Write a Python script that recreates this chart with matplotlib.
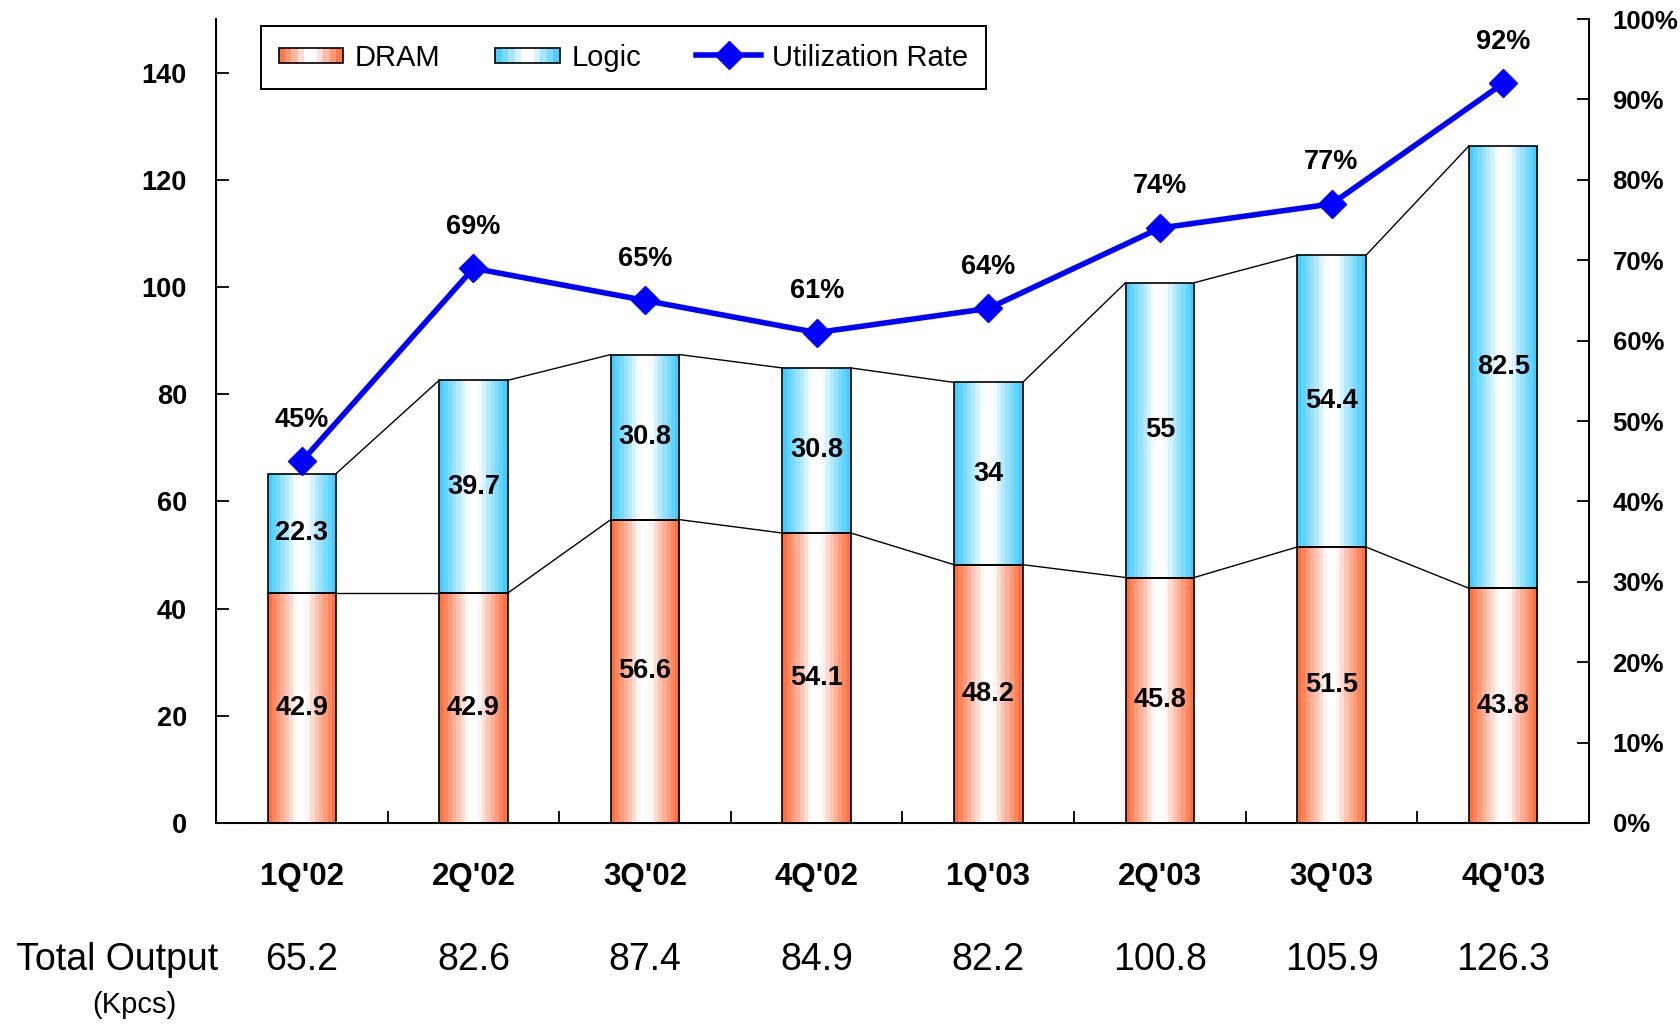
import numpy as np
import matplotlib
matplotlib.use("Agg")
import matplotlib.pyplot as plt
from matplotlib.patches import Rectangle
from matplotlib.lines import Line2D
from matplotlib.legend_handler import HandlerBase
from matplotlib.ticker import FuncFormatter
from matplotlib.colors import to_rgb
import matplotlib.transforms as mtransforms

quarters = ["1Q'02", "2Q'02", "3Q'02", "4Q'02", "1Q'03", "2Q'03", "3Q'03", "4Q'03"]
dram = [42.9, 42.9, 56.6, 54.1, 48.2, 45.8, 51.5, 43.8]
logic = [22.3, 39.7, 30.8, 30.8, 34, 55, 54.4, 82.5]
util = [45, 69, 65, 61, 64, 74, 77, 92]
total_output = ["65.2", "82.6", "87.4", "84.9", "82.2", "100.8", "105.9", "126.3"]

ORANGE = "#FF6633"
BLUE = "#38C8FF"
LINE_BLUE = "#0000FF"

plt.rcParams["font.family"] = ["Liberation Sans", "DejaVu Sans"]
plt.rcParams["font.weight"] = "bold"


def shade(edge, t):
	# t: 0 at bar centre, 1 at bar edge
	f = np.clip((t - 0.15) / 0.85, 0, 1) ** 0.9
	e = np.array(to_rgb(edge))
	return tuple(1 - f + e * f)


def gradient_bar(ax, x, bottom, height, edge, width, n=16):
	left = x - width / 2
	sw = width / n
	for i in range(n):
		t = abs((i + 0.5) / n * 2 - 1)
		ax.bar(left + i * sw, height, width=sw * 1.03, bottom=bottom, align="edge",
			color=shade(edge, t), linewidth=0, zorder=2)
	ax.bar(x, height, width=width, bottom=bottom, fill=False,
		edgecolor="black", linewidth=1.2, zorder=3)


class GradientHandler(HandlerBase):
	def __init__(self, edge, n=10):
		super().__init__()
		self.edge = edge
		self.n = n

	def create_artists(self, legend, orig_handle, xdescent, ydescent, width, height, fontsize, trans):
		h = height * 0.75
		y0 = -ydescent + (height - h) / 2
		sw = width / self.n
		arts = []
		for i in range(self.n):
			t = abs((i + 0.5) / self.n * 2 - 1)
			arts.append(Rectangle((-xdescent + i * sw, y0), sw * 1.05, h,
				facecolor=shade(self.edge, t), linewidth=0, transform=trans))
		arts.append(Rectangle((-xdescent, y0), width, h, fill=False,
			edgecolor="black", linewidth=1.2, transform=trans))
		return arts


fig = plt.figure(figsize=(16.8, 10.24), dpi=100)
ax = fig.add_axes([0.1286, 0.1963, 0.8172, 0.7851])

x = np.arange(len(quarters))
w = 0.4
tops = [d + l for d, l in zip(dram, logic)]

for i in range(len(x)):
	gradient_bar(ax, x[i], 0, dram[i], ORANGE, w)
	gradient_bar(ax, x[i], dram[i], logic[i], BLUE, w)
	ax.text(x[i], dram[i] / 2, f"{dram[i]:g}", ha="center", va="center", fontsize=19.5, zorder=5)
	ax.text(x[i], dram[i] + logic[i] / 2, f"{logic[i]:g}", ha="center", va="center", fontsize=19.5, zorder=5)

# series lines between stacked bars
for i in range(len(x) - 1):
	ax.plot([x[i] + w / 2, x[i + 1] - w / 2], [dram[i], dram[i + 1]], color="black", lw=1.0, zorder=1)
	ax.plot([x[i] + w / 2, x[i + 1] - w / 2], [tops[i], tops[i + 1]], color="black", lw=1.0, zorder=1)

ax.set_xlim(-0.5, len(x) - 0.5)
ax.set_ylim(0, 150)
ax.set_yticks(range(0, 141, 20))
ax.set_xticks(x)
ax.set_xticklabels(quarters)
ax.set_xticks(np.arange(0.5, len(x) - 1, 1), minor=True)
ax.tick_params(axis="x", which="major", length=0, pad=28, labelsize=22.5)
ax.tick_params(axis="x", which="minor", direction="in", length=9, width=1.3)
ax.tick_params(axis="y", direction="in", length=9, width=1.3, pad=21, labelsize=19.5)
ax.spines["top"].set_visible(False)
for s in ("left", "bottom", "right"):
	ax.spines[s].set_linewidth(1.4)

ax2 = ax.twinx()
ax2.set_ylim(0, 100)
ax2.set_yticks(range(0, 101, 10))
ax2.yaxis.set_major_formatter(FuncFormatter(lambda v, p: f"{v:.0f}%"))
ax2.tick_params(axis="y", direction="in", length=9, width=1.3, pad=17, labelsize=18.5)
ax2.spines["top"].set_visible(False)
ax2.spines["right"].set_linewidth(1.4)

ax2.plot(x, util, color=LINE_BLUE, lw=4, marker="D", markersize=14, zorder=6)
for i in range(len(x)):
	ax2.annotate(f"{util[i]}%", (x[i], util[i]), xytext=(0, 30), textcoords="offset points",
		ha="center", va="center", fontsize=19.5)

h_dram = Rectangle((0, 0), 1, 1)
h_logic = Rectangle((0, 0), 1, 1)
h_util = Line2D([], [], color=LINE_BLUE, lw=4, marker="D", markersize=14)
leg = ax2.legend([h_dram, h_logic, h_util], ["DRAM", "Logic", "Utilization Rate"],
	handler_map={h_dram: GradientHandler(ORANGE), h_logic: GradientHandler(BLUE)},
	loc="upper left", bbox_to_anchor=(0.0328, 0.9913), borderaxespad=0, ncol=3,
	prop={"size": 21, "weight": "normal"}, handlelength=2.2, handletextpad=0.4,
	columnspacing=1.9, borderpad=0.6, fancybox=False, framealpha=1)
leg.get_frame().set_edgecolor("black")
leg.get_frame().set_linewidth(1.4)

# total output row under the axis
trans = mtransforms.blended_transform_factory(ax.transData, fig.transFigure)
for i in range(len(x)):
	ax.text(x[i], 0.0625, total_output[i], transform=trans, ha="center", va="center",
		fontsize=27, fontweight="normal")
fig.text(0.0095, 0.0625, "Total Output", ha="left", va="center", fontsize=27, fontweight="normal")
fig.text(0.080, 0.0186, "(Kpcs)", ha="center", va="center", fontsize=21, fontweight="normal")

fig.savefig("out.png", dpi=100)
